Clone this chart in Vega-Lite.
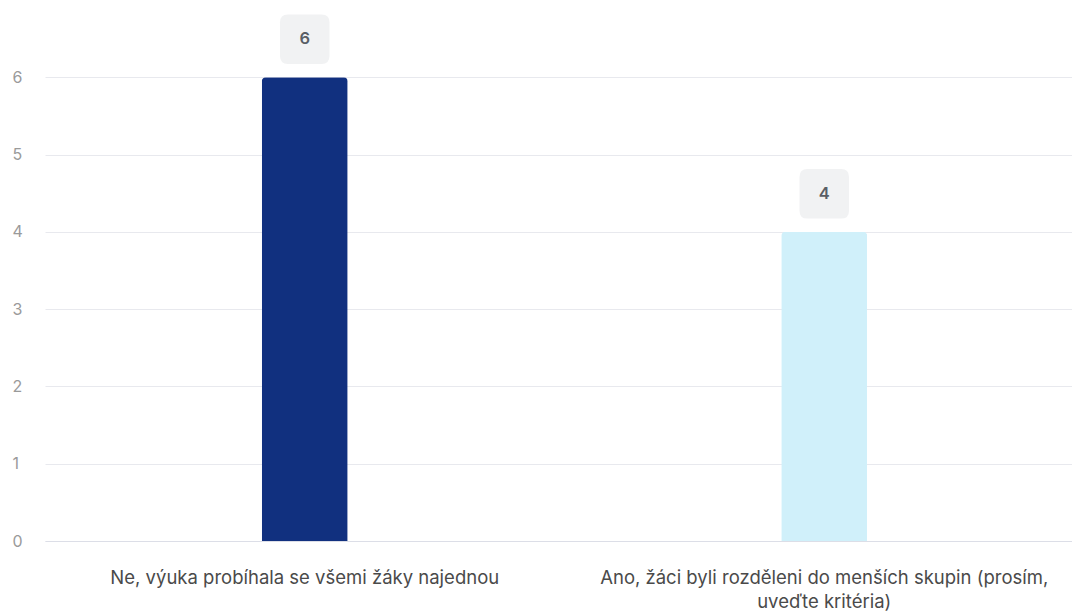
{
  "$schema": "https://vega.github.io/schema/vega-lite/v6.json",
  "width": 1027,
  "height": 541,
  "autosize": {"type": "none"},
  "padding": {"left": 45, "top": 0, "right": 0, "bottom": 71},
  "background": "#ffffff",
  "config": {"view": {"stroke": null}, "font": "Inter"},
  "data": {"values": [
    {"answer": "Ne, výuka probíhala se všemi žáky najednou", "count": 6, "color": "#11307f"},
    {"answer": "Ano, žáci byli rozděleni do menších skupin (prosím, uveďte kritéria)", "count": 4, "color": "#d0f0fa"}
  ]},
  "encoding": {
    "x": {"field": "answer", "type": "nominal", "sort": null,
      "scale": {"paddingInner": 0, "paddingOuter": 0, "range": [0, 1039]},
      "axis": {"title": null, "labelAngle": 0, "domain": true, "domainColor": "#dcdee7", "ticks": false,
        "labelPadding": 27, "labelFontSize": 18.5, "labelColor": "#4a4a4a", "labelFont": "Inter",
        "labelLineHeight": 24, "labelLimit": 700, "labelBaseline": "top",
        "labelExpr": "length(datum.value) > 50 ? ['Ano, žáci byli rozděleni do menších skupin (prosím,', 'uveďte kritéria)'] : datum.value"}},
    "y": {"field": "count", "type": "quantitative",
      "scale": {"domain": [0, 7], "nice": false},
      "axis": {"title": null, "values": [0, 1, 2, 3, 4, 5, 6], "domain": false, "ticks": false,
        "labelPadding": 33, "labelAlign": "left", "labelFontSize": 16, "labelColor": "#9a9a9a",
        "labelFont": "Inter", "gridColor": "#e8e9ee", "gridWidth": 1}}
  },
  "layer": [
    {"mark": {"type": "bar", "width": 86, "cornerRadiusTopLeft": 4, "cornerRadiusTopRight": 4},
     "encoding": {"color": {"field": "color", "type": "nominal", "scale": null, "legend": null}}},
    {"mark": {"type": "point", "filled": true, "opacity": 1, "color": "#f1f2f3", "size": 2450, "yOffset": -38,
      "shape": "M -0.68 -1 L 0.68 -1 Q 1 -1 1 -0.68 L 1 0.68 Q 1 1 0.68 1 L -0.68 1 Q -1 1 -1 0.68 L -1 -0.68 Q -1 -1 -0.68 -1 Z"}},
    {"mark": {"type": "text", "yOffset": -38, "baseline": "middle", "fontSize": 16.5, "fontWeight": 600, "color": "#5a5f66", "font": "Inter"},
     "encoding": {"text": {"field": "count", "type": "quantitative"}}}
  ]
}
